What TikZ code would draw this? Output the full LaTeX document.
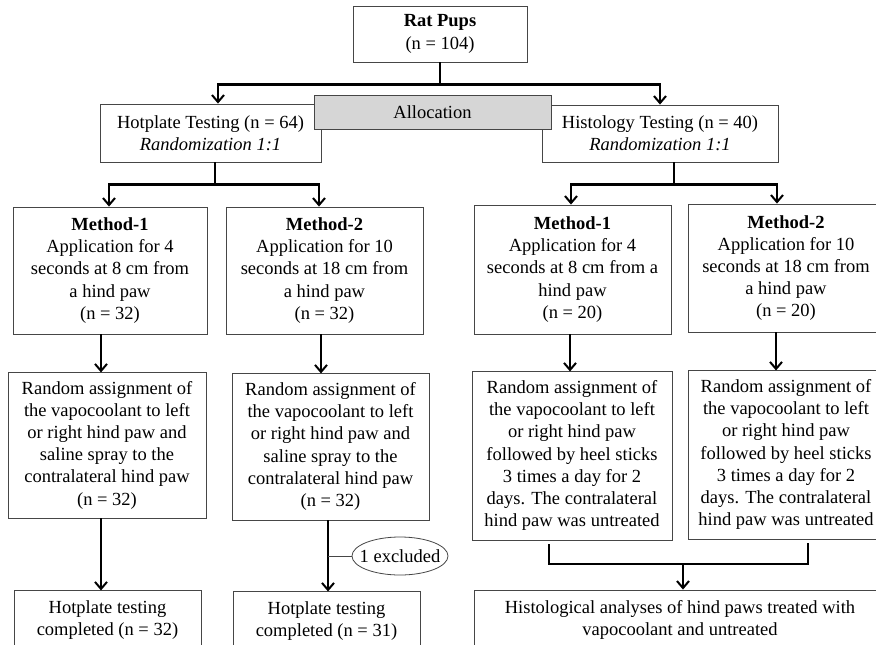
\documentclass[tikz,border=0pt]{standalone}
\usepackage{fontspec}
\setmainfont{Liberation Serif}
\usepackage{xcolor}
\definecolor{figgray}{RGB}{214,214,214}
\definecolor{figedge}{RGB}{70,70,70}
\usetikzlibrary{shapes.geometric,arrows.meta,positioning,calc}

\begin{document}
\begin{tikzpicture}[
  x=1pt,y=-1pt,
  font=\fontsize{18.5}{22.2}\selectfont,
  box/.style={draw=figedge,line width=0.9pt,fill=white,align=center,inner sep=2pt},
  grp/.style={box,fill=figgray},
  oval/.style={ellipse,draw=figedge,line width=0.8pt,fill=white,inner sep=0pt,minimum width=96pt,minimum height=38pt},
  lnk/.style={black,line width=2.4pt},
  ar/.style={lnk,-{Straight Barb[length=7pt,width=12pt,line width=2pt]}}
]
\useasboundingbox (0,0) rectangle (876,645);
\node[box,minimum width=174pt,minimum height=56pt] (pups) at (440,34) {\textbf{Rat Pups}\\(n = 104)};
\node[box,minimum width=221pt,minimum height=58pt] (hot) at (210.5,133) {Hotplate Testing (n = 64)\\\textit{Randomization 1:1}};
\node[box,minimum width=236pt,minimum height=57pt] (hist) at (660,133.5) {Histology Testing (n = 40)\\\textit{Randomization 1:1}};
\node[grp,minimum width=237pt,minimum height=34pt] (alloc) at (432.5,112) {Allocation};
\node[box,minimum width=194pt,minimum height=127pt] (m1L) at (110,270.5)
  {\textbf{Method-1}\\Application for 4\\seconds at 8 cm from\\a hind paw\\(n = 32)};
\node[box,minimum width=197pt,minimum height=127pt] (m2L) at (324.5,270.5)
  {\textbf{Method-2}\\Application for 10\\seconds at 18 cm from\\a hind paw\\(n = 32)};
\node[box,minimum width=197pt,minimum height=129pt] (m1R) at (572.5,269.5)
  {\textbf{Method-1}\\Application for 4\\seconds at 8 cm from a\\hind paw\\(n = 20)};
\node[box,minimum width=196pt,minimum height=128pt] (m2R) at (786,268)
  {\textbf{Method-2}\\Application for 10\\seconds at 18 cm from\\a hind paw\\(n = 20)};
\node[box,minimum width=198pt,minimum height=146pt] (r1L) at (107,445)
  {Random assignment of\\the vapocoolant to left\\or right hind paw and\\saline spray to the\\contralateral hind paw\\(n = 32)};
\node[box,minimum width=197pt,minimum height=147pt] (r2L) at (330.5,446.5)
  {Random assignment of\\the vapocoolant to left\\or right hind paw and\\saline spray to the\\contralateral hind paw\\(n = 32)};
\node[box,minimum width=200pt,minimum height=169pt] (r1R) at (572,455.5)
  {Random assignment of\\the vapocoolant to left\\or right hind paw\\followed by heel sticks\\3 times a day for 2\\days. The contralateral\\hind paw was untreated};
\node[box,minimum width=196pt,minimum height=169pt] (r2R) at (786,454.5)
  {Random assignment of\\the vapocoolant to left\\or right hind paw\\followed by heel sticks\\3 times a day for 2\\days. The contralateral\\hind paw was untreated};
\node[box,minimum width=187pt,minimum height=60pt] (b1L) at (107.5,620) {Hotplate testing\\completed (n = 32)};
\node[box,minimum width=187pt,minimum height=60pt] (b2L) at (326.5,621) {Hotplate testing\\completed (n = 31)};
\node[box,minimum width=412pt,minimum height=60pt] (bR) at (680,620)
  {Histological analyses of hind paws treated with\\vapocoolant and untreated};
\node[oval] (excl) at (400,556) {\makebox[0pt]{1 excluded}};
\coordinate (cut) at (328,556);
\coordinate (mrg) at (683,564);
\draw[ar] (pups.south) -- ++(0,22) -| ([xshift=7.5pt]hot.north);
\draw[ar] (pups.south) -- ++(0,22) -| (hist.north);
\draw[ar] ([xshift=4.5pt]hot.south) -- ++(0,22) -| ([xshift=-1pt]m1L.north);
\draw[ar] ([xshift=4.5pt]hot.south) -- ++(0,22) -| ([xshift=-5.5pt]m2L.north);
\draw[ar] ([xshift=14pt]hist.south) -- ++(0,22) -| ([xshift=-1.5pt]m1R.north);
\draw[ar] ([xshift=14pt]hist.south) -- ++(0,22) -| ([xshift=-9pt]m2R.north);
\draw[ar] ([xshift=-9pt]m1L.south) -- ++(0,38); \draw[ar] ([xshift=-3.5pt]m2L.south) -- ++(0,39);
\draw[ar] ([xshift=-2.5pt]m1R.south) -- ++(0,37); \draw[ar] ([xshift=-10pt]m2R.south) -- ++(0,38);
\draw[ar] ([xshift=-6pt]r1L.south) -- ++(0,72); \draw[ar] ([xshift=-2.5pt]r2L.south) -- ++(0,71);
\draw[figedge,line width=0.8pt] (cut) -- (excl);
\draw[lnk] ([xshift=-23pt,yshift=-4pt]r1R.south) |- (mrg) -| ([xshift=22pt,yshift=-4pt]r2R.south);
\draw[ar] (mrg) -- (mrg |- bR.north);
\end{tikzpicture}
\end{document}
